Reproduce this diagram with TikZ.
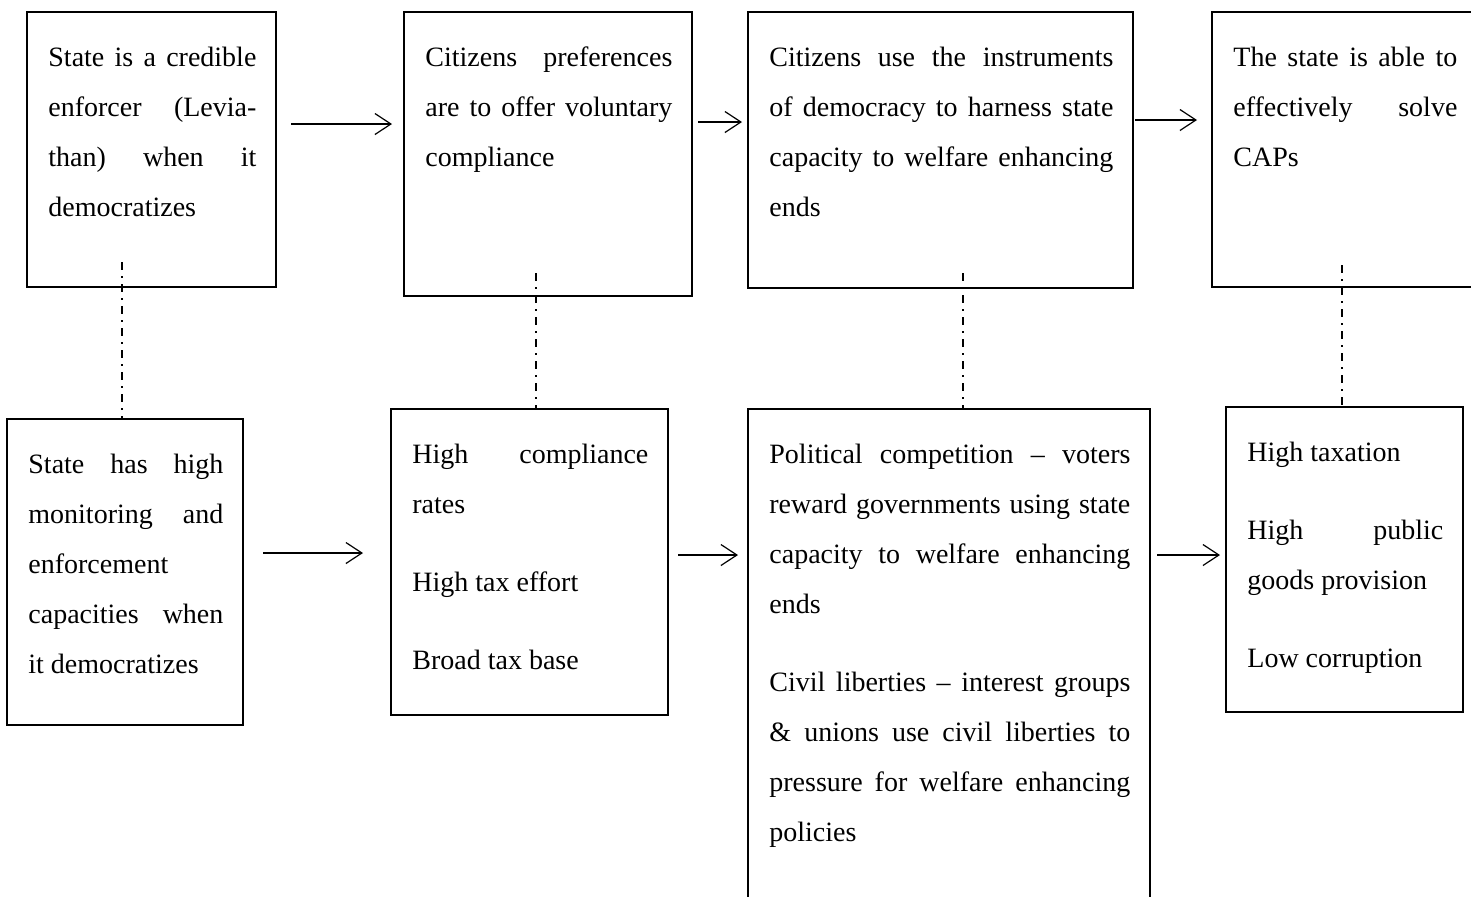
\documentclass[tikz,border=0pt]{standalone}
\usepackage{fontspec}
\setmainfont{Liberation Serif}
\usetikzlibrary{arrows.meta}
\newlength{\ux}
\setlength{\ux}{0.5pt}
\pretolerance=10000
\hbadness=10000
\hyphenpenalty=10000
\tikzset{
    box/.style={draw,line width=0.6pt,inner sep=0pt,outer sep=0pt,anchor=north west},
    txt/.style={inner sep=0pt,anchor=base west,align=justify,
        font=\fontsize{14}{25}\selectfont\setlength{\parskip}{14pt}},
    flow/.style={line width=0.6pt,-{Straight Barb[length=8pt,width=10.5pt,line width=0.6pt]}},
    tie/.style={line width=0.6pt,dash pattern=on 4pt off 3pt on 1pt off 3pt}
}
\newcommand{\TBox}[7]{% name,tlcx,tlcy,width,height,textwidth,content (tlc=top left corner)
    \node[box,minimum width=#4\ux,minimum height=#5\ux] (#1) at (#2,#3) {};
    \node[txt,text width=#6\ux] (#1t) at ([shift={(21,54)}]#1.north west) {#7};
}
\begin{document}
\begin{tikzpicture}[x=0.5pt,y=-0.5pt]
        \useasboundingbox (0,0) rectangle (1471,896);

        % top row
        \TBox{lev}{27}{12}{249}{275}{208}{State is a credible \linebreak enforcer (Levia-\linebreak than) when it \linebreak democratizes};
        \TBox{pref}{404}{12}{288}{284}{247}{Citizens preferences \linebreak are to offer voluntary \linebreak compliance};
        \TBox{instr}{748}{12}{385}{276}{344}{Citizens use the instruments \linebreak of democracy to harness state \linebreak capacity to welfare enhancing \linebreak ends};
        \TBox{caps}{1212}{12}{265}{275}{224}{The state is able to \linebreak effectively solve \linebreak CAPs};

        % bottom row
        \TBox{monit}{7}{419}{236}{306}{195}{State has high \linebreak monitoring and \linebreak enforcement \linebreak capacities when \linebreak it democratizes};
        \TBox{compl}{391}{409}{277}{306}{236}{High compliance \linebreak rates\par High tax effort\par Broad tax base};
        \TBox{comp}{748}{409}{402}{500}{361}{Political competition -- voters \linebreak reward governments using state \linebreak capacity to welfare enhancing \linebreak ends\par Civil liberties -- interest groups \linebreak \& unions use civil liberties to \linebreak pressure for welfare enhancing \linebreak policies};
        \TBox{tax}{1226}{407}{237}{305}{196}{High taxation\par High public \linebreak goods provision\par Low corruption};

        % arrows
        \coordinate (a1) at (291,124);
        \coordinate (b1) at (392,124);
        \coordinate (a2) at (698,122);
        \coordinate (b2) at (742,122);
        \coordinate (a3) at (1135,120);
        \coordinate (b3) at (1197,120);
        \coordinate (c1) at (263,553);
        \coordinate (d1) at (363,553);
        \coordinate (c2) at (678,555);
        \coordinate (d2) at (738,555);
        \coordinate (c3) at (1157,555);
        \coordinate (d3) at (1220,555);
        \draw[flow] (a1) -- (b1);
        \draw[flow] (a2) -- (b2);
        \draw[flow] (a3) -- (b3);
        \draw[flow] (c1) -- (d1);
        \draw[flow] (c2) -- (d2);
        \draw[flow] (c3) -- (d3);

        % dash-dot ties
        \coordinate (t1) at (122,262);
        \coordinate (t2) at (536,273);
        \coordinate (t3) at (963,273);
        \coordinate (t4) at (1342,265);
        \draw[tie] (t1) -- (t1 |- monit.north);
        \draw[tie] (t2) -- (t2 |- compl.north);
        \draw[tie] (t3) -- (t3 |- comp.north);
        \draw[tie] (t4) -- (t4 |- tax.north);
\end{tikzpicture}
\end{document}
